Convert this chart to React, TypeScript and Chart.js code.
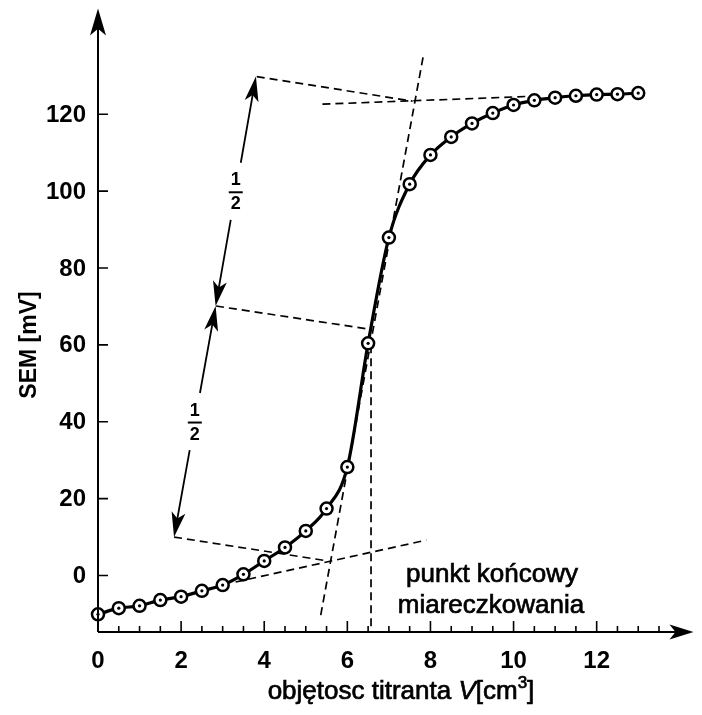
import React, { useEffect, useRef } from "react";
import { Chart, registerables } from "chart.js";

Chart.register(...registerables);

// ---- data ----
const volumes = [0, 0.5, 1, 1.5, 2, 2.5, 3, 3.5, 4, 4.5, 5, 5.5, 6, 6.5, 7, 7.5, 8, 8.5, 9, 9.5, 10, 10.5, 11, 11.5, 12, 12.5, 13];
const sem = [-10.1, -8.5, -7.9, -6.4, -5.5, -4.0, -2.5, 0.3, 3.8, 7.3, 11.6, 17.4, 28.2, 60.4, 87.9, 101.8, 109.4, 114.1, 117.6, 120.3, 122.4, 123.6, 124.3, 124.8, 125.1, 125.2, 125.5];

const xTickValues = [0, 2, 4, 6, 8, 10, 12];
const xTickLabels = ["0", "2", "4", "6", "8", "10", "12"];
const xMinorTicks = [0.5, 1, 1.5, 2.5, 3, 3.5, 4.5, 5, 5.5, 6.5, 7, 7.5, 8.5, 9, 9.5, 10.5, 11, 11.5, 12.5, 13, 13.5];
const yTickValues = [0, 20, 40, 60, 80, 100, 120];
const yTickLabels = ["0", "20", "40", "60", "80", "100", "120"];

const xAxisTitle = ["objętosc titranta ", "V", "[cm", "3", "]"];
const yAxisTitle = "SEM [mV]";
const endpointText = ["punkt końcowy", "miareczkowania"];
const halfLabel = ["1", "2"];

// construction lines (data coordinates: [x1, y1, x2, y2])
const dashedLines = [
  [5.4, 122.6, 10.52, 124.7], // upper tangent
  [3.82, 129.8, 7.57, 123.4], // top arrow -> upper intersection
  [5.36, -10.3, 7.83, 135.3], // steep tangent
  [2.84, 70.1, 6.52, 64.1], // middle arrow -> curve
  [1.83, 10.0, 5.52, 3.8], // bottom arrow -> lower intersection
  [3.31, -1.7, 7.9, 9.2], // lower tangent
  [6.57, 59.9, 6.57, -14.7], // end point vertical
];
// double arrow: top, middle, bottom (data coordinates)
const arrowPoints = [
  [3.8, 129.8],
  [2.83, 70.1],
  [1.83, 10.0],
];

const FONT = '"Liberation Sans", Arial, sans-serif';

function arrowHead(ctx: CanvasRenderingContext2D, tx: number, ty: number, fx: number, fy: number, len: number, hw: number) {
  const dx = tx - fx;
  const dy = ty - fy;
  const d = Math.hypot(dx, dy) || 1;
  const ux = dx / d;
  const uy = dy / d;
  const bx = tx - ux * len;
  const by = ty - uy * len;
  const nx = -uy;
  const ny = ux;
  const cx = tx - ux * len * 0.75;
  const cy = ty - uy * len * 0.75;
  ctx.beginPath();
  ctx.moveTo(tx, ty);
  ctx.lineTo(bx + nx * hw, by + ny * hw);
  ctx.lineTo(cx, cy);
  ctx.lineTo(bx - nx * hw, by - ny * hw);
  ctx.closePath();
  ctx.fill();
}

function heavyText(ctx: CanvasRenderingContext2D, t: string, x: number, y: number) {
  ctx.fillText(t, x, y);
  ctx.strokeText(t, x, y);
}

const figurePlugin = {
  id: "figurePlugin",
  beforeDatasetsDraw(chart: any) {
    const ctx: CanvasRenderingContext2D = chart.ctx;
    const xs = chart.scales.x;
    const ys = chart.scales.y;
    ctx.save();
    ctx.strokeStyle = "#000";
    ctx.lineWidth = 1.7;
    ctx.setLineDash([8, 5]);
    for (const [x1, y1, x2, y2] of dashedLines) {
      ctx.beginPath();
      ctx.moveTo(xs.getPixelForValue(x1), ys.getPixelForValue(y1));
      ctx.lineTo(xs.getPixelForValue(x2), ys.getPixelForValue(y2));
      ctx.stroke();
    }
    ctx.restore();
  },
  afterDatasetsDraw(chart: any) {
    const ctx: CanvasRenderingContext2D = chart.ctx;
    const xs = chart.scales.x;
    const ys = chart.scales.y;
    const area = chart.chartArea;
    const x0 = xs.getPixelForValue(0);
    const yBottom = area.bottom;
    ctx.save();
    ctx.fillStyle = "#000";
    ctx.strokeStyle = "#000";
    ctx.setLineDash([]);

    // axes
    ctx.lineWidth = 2;
    ctx.beginPath();
    ctx.moveTo(x0, yBottom);
    ctx.lineTo(x0, area.top + 10);
    ctx.moveTo(x0, yBottom);
    ctx.lineTo(area.right - 10, yBottom);
    ctx.stroke();
    arrowHead(ctx, x0, area.top, x0, area.top + 40, 27, 8);
    arrowHead(ctx, area.right, yBottom, area.right - 40, yBottom, 24, 7.5);

    // ticks
    ctx.lineWidth = 1.6;
    ctx.beginPath();
    for (const v of yTickValues) {
      const py = ys.getPixelForValue(v);
      ctx.moveTo(x0, py);
      ctx.lineTo(x0 + 10, py);
    }
    for (const v of xTickValues) {
      const px = xs.getPixelForValue(v);
      ctx.moveTo(px, yBottom);
      ctx.lineTo(px, yBottom - 11);
    }
    for (const v of xMinorTicks) {
      const px = xs.getPixelForValue(v);
      ctx.moveTo(px, yBottom);
      ctx.lineTo(px, yBottom - 6);
    }
    ctx.stroke();

    // tick labels
    ctx.font = `bold 24px ${FONT}`;
    ctx.textAlign = "right";
    ctx.textBaseline = "middle";
    yTickValues.forEach((v, i) => {
      ctx.fillText(yTickLabels[i], x0 - 12, ys.getPixelForValue(v) + 1);
    });
    ctx.textAlign = "center";
    ctx.textBaseline = "middle";
    xTickValues.forEach((v, i) => {
      ctx.fillText(xTickLabels[i], xs.getPixelForValue(v), yBottom + 29);
    });

    // y title
    ctx.save();
    ctx.translate(30, 345);
    ctx.rotate(-Math.PI / 2);
    ctx.font = `bold 23px ${FONT}`;
    ctx.textAlign = "center";
    ctx.textBaseline = "middle";
    ctx.fillText(yAxisTitle, 0, 0);
    ctx.restore();

    // x title with italic V and superscript 3
    const fReg = `26px ${FONT}`;
    const fIt = `italic 26px ${FONT}`;
    const fSup = `17px ${FONT}`;
    const parts: [string, string, number][] = [
      [xAxisTitle[0], fReg, 0],
      [xAxisTitle[1], fIt, 0],
      [xAxisTitle[2], fReg, 0],
      [xAxisTitle[3], fSup, -11],
      [xAxisTitle[4], fReg, 0],
    ];
    let total = 0;
    for (const [t, f] of parts) {
      ctx.font = f;
      total += ctx.measureText(t).width;
    }
    let cx = 401 - total / 2;
    ctx.textAlign = "left";
    ctx.textBaseline = "alphabetic";
    ctx.lineWidth = 0.7;
    for (const [t, f, dy] of parts) {
      ctx.font = f;
      heavyText(ctx, t, cx, 699 + dy);
      cx += ctx.measureText(t).width;
    }

    // end point label
    ctx.font = `26px ${FONT}`;
    ctx.textAlign = "center";
    ctx.textBaseline = "alphabetic";
    heavyText(ctx, endpointText[0], 492, 582);
    heavyText(ctx, endpointText[1], 491, 613);

    // double arrow with 1/2 labels
    const pts = arrowPoints.map(([x, y]) => [xs.getPixelForValue(x), ys.getPixelForValue(y)]);
    ctx.lineWidth = 1.8;
    for (let s = 0; s < 2; s++) {
      const [ax, ay] = pts[s];
      const [bx, by] = pts[s + 1];
      const L = Math.hypot(bx - ax, by - ay);
      const ux = (bx - ax) / L;
      const uy = (by - ay) / L;
      const mx = ax + (bx - ax) * 0.5;
      const my = ay + (by - ay) * 0.5;
      const gap = 29;
      const inset = 12;
      ctx.beginPath();
      ctx.moveTo(ax + ux * inset, ay + uy * inset);
      ctx.lineTo(mx - ux * gap, my - uy * gap);
      ctx.moveTo(mx + ux * gap, my + uy * gap);
      ctx.lineTo(bx - ux * inset, by - uy * inset);
      ctx.stroke();
      arrowHead(ctx, ax, ay, bx, by, 25, 7);
      arrowHead(ctx, bx, by, ax, ay, 25, 7);
      // fraction
      ctx.font = `bold 18px ${FONT}`;
      ctx.textAlign = "center";
      ctx.textBaseline = "middle";
      ctx.fillText(halfLabel[0], mx, my - 11);
      ctx.fillText(halfLabel[1], mx, my + 13);
      ctx.lineWidth = 2;
      ctx.beginPath();
      ctx.moveTo(mx - 7, my + 1);
      ctx.lineTo(mx + 7, my + 1);
      ctx.stroke();
      ctx.lineWidth = 1.8;
    }
    ctx.restore();
  },
};

export default function App() {
  const canvasRef = useRef<HTMLCanvasElement | null>(null);

  useEffect(() => {
    if (!canvasRef.current) return;
    const points = volumes.map((v, i) => ({ x: v, y: sem[i] }));
    const chart = new Chart(canvasRef.current, {
      type: "line",
      data: {
        datasets: [
          {
            data: points,
            order: 1,
            borderColor: "#000",
            borderWidth: 3.2,
            cubicInterpolationMode: "monotone",
            pointRadius: 6,
            pointBorderWidth: 2.5,
            pointBorderColor: "#000",
            pointBackgroundColor: "#fff",
            clip: false,
          } as any,
          {
            data: points,
            order: 0,
            showLine: false,
            pointRadius: 1.6,
            pointBorderWidth: 0,
            pointBorderColor: "#000",
            pointBackgroundColor: "#000",
            clip: false,
          } as any,
        ],
      },
      options: {
        animation: false,
        responsive: false,
        devicePixelRatio: 1,
        events: [],
        layout: { padding: { left: 98, right: 2, top: 8, bottom: 83 } },
        scales: {
          x: { type: "linear", min: 0, max: 14.33, display: false },
          y: { type: "linear", min: -14.7, max: 147.5, display: false },
        },
        plugins: { legend: { display: false }, tooltip: { enabled: false } },
      },
      plugins: [figurePlugin],
    });
    return () => chart.destroy();
  }, []);

  return (
    <div style={{ position: "absolute", left: 0, top: 0, width: 702, height: 715, background: "#fff" }}>
      <canvas ref={canvasRef} width={702} height={715} style={{ display: "block" }} />
    </div>
  );
}
